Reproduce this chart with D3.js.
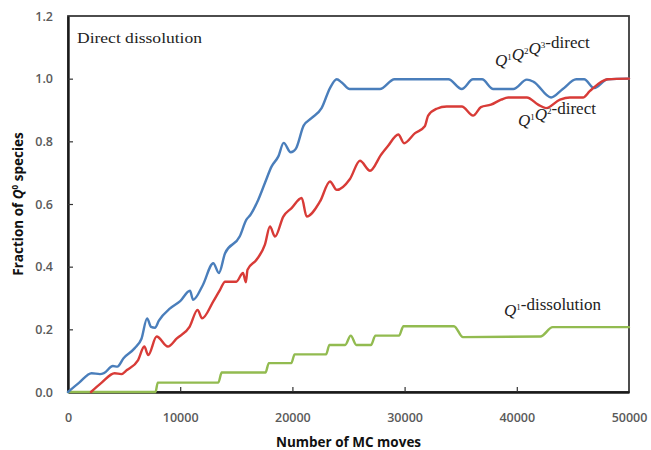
<!DOCTYPE html>
<html>
<head>
<meta charset="utf-8">
<script src="https://cdn.jsdelivr.net/npm/d3@7"></script>
<style>
  html, body { margin: 0; padding: 0; background: #fff; }
  svg { display: block; }
</style>
</head>
<body>
<svg id="chart" width="651" height="450"></svg>
<script>
// Fraction of Q0 species versus number of Monte Carlo moves, direct dissolution runs.
const xTicks = [0, 10000, 20000, 30000, 40000, 50000];
const yTicks = [0.0, 0.2, 0.4, 0.6, 0.8, 1.0, 1.2];

// [MC moves, fraction]
const q123Direct = [
  [0, 0.0], [1000, 0.03], [2100, 0.06], [2850, 0.057], [3200, 0.06], [4000, 0.083],
  [4400, 0.081], [4950, 0.108], [5950, 0.14], [6550, 0.17], [7050, 0.235], [7400, 0.208],
  [7750, 0.205], [8100, 0.228], [9100, 0.267], [10000, 0.29], [10870, 0.323], [11150, 0.294],
  [12000, 0.34], [12950, 0.411], [13450, 0.38], [14000, 0.443], [15300, 0.496], [15900, 0.55],
  [16250, 0.565], [16950, 0.613], [17550, 0.667], [18150, 0.72], [18750, 0.752], [19220, 0.795],
  [19850, 0.765], [20300, 0.776], [21000, 0.85], [21700, 0.874], [22600, 0.906], [23350, 0.97],
  [23950, 0.998], [24400, 0.988], [25100, 0.967], [27800, 0.967], [29100, 0.998], [33900, 0.998],
  [35090, 0.967], [36100, 0.998], [36900, 0.998], [37900, 0.967], [39690, 0.967], [40900, 0.997],
  [41500, 0.99], [43050, 0.94], [44100, 0.967], [45300, 0.998], [46000, 0.998], [46900, 0.97],
  [48100, 0.998], [50000, 1.0]
];

const q12Direct = [
  [2050, 0.0], [3000, 0.03], [4150, 0.06], [4750, 0.057], [5250, 0.07], [6250, 0.102],
  [6800, 0.145], [7150, 0.118], [7900, 0.177], [8900, 0.145], [9700, 0.171], [10850, 0.209],
  [11550, 0.262], [11950, 0.235], [12950, 0.289], [13550, 0.326], [14000, 0.352], [15000, 0.352],
  [15600, 0.38], [15850, 0.35], [16000, 0.39], [16800, 0.422], [17550, 0.47], [18000, 0.528],
  [18450, 0.496], [19190, 0.56], [19930, 0.587], [20830, 0.619], [21270, 0.56], [22460, 0.608],
  [23350, 0.672], [23950, 0.645], [25130, 0.68], [26020, 0.738], [26920, 0.706], [27900, 0.757],
  [28500, 0.784], [29440, 0.822], [29950, 0.794], [30930, 0.826], [31800, 0.848], [32100, 0.882],
  [32860, 0.904], [33750, 0.911], [35100, 0.911], [36100, 0.882], [36800, 0.909], [37700, 0.917],
  [38600, 0.933], [39240, 0.94], [40900, 0.94], [41900, 0.917], [42600, 0.906], [43850, 0.933],
  [44740, 0.94], [45900, 0.94], [46500, 0.96], [48100, 0.998], [50000, 1.0]
];

const q1Dissolution = [
  [0, 0.0], [7800, 0.0], [8000, 0.03], [13400, 0.03], [13700, 0.062], [17600, 0.062],
  [17900, 0.092], [19900, 0.092], [20200, 0.12], [23000, 0.12], [23300, 0.15], [24700, 0.15],
  [25200, 0.18], [25700, 0.15], [27000, 0.15], [27400, 0.18], [29500, 0.18], [29900, 0.21],
  [34400, 0.21], [35200, 0.175], [42100, 0.177], [43200, 0.207], [50000, 0.207]
];

const margin = { left: 68, right: 22, top: 16, bottom: 58 };
const W = 651, H = 450;
const svg = d3.select("#chart");

const x = d3.scaleLinear().domain([0, 50000]).range([margin.left, W - margin.right]);
const y = d3.scaleLinear().domain([0, 1.2]).range([H - margin.bottom, margin.top]);

const tickFont = "'Open Sans', sans-serif";

// Frame
svg.append("rect")
  .attr("x", x(0)).attr("y", y(1.2))
  .attr("width", x(50000) - x(0)).attr("height", y(0) - y(1.2))
  .attr("fill", "none").attr("stroke", "#3a3a3a").attr("stroke-width", 1.8);

// Axes with inward ticks
const yAxis = svg.append("g")
  .attr("transform", `translate(${x(0)},0)`)
  .call(d3.axisLeft(y).tickValues(yTicks).tickFormat(d3.format(".1f")).tickSizeInner(-5).tickSizeOuter(0).tickPadding(15));
const xAxis = svg.append("g")
  .attr("transform", `translate(0,${y(0)})`)
  .call(d3.axisBottom(x).tickValues(xTicks).tickFormat(d3.format("d")).tickSizeInner(-5).tickSizeOuter(0).tickPadding(21));

[yAxis, xAxis].forEach(g => {
  g.select(".domain").attr("stroke", "#1a1a1a").attr("stroke-width", 2.4);
  g.selectAll(".tick line").attr("stroke", "#333").attr("stroke-width", 1.2);
  g.selectAll(".tick text")
    .attr("fill", "#5a5a5a")
    .style("font-family", tickFont)
    .style("font-size", "12.5px")
    .style("font-weight", 600);
});
yAxis.selectAll(".tick").filter(d => d === 0 || d === 1.2).select("line").remove();
xAxis.selectAll(".tick").filter(d => d === 0 || d === 50000).select("line").remove();

// Axis titles
svg.append("text")
  .attr("x", (x(0) + x(50000)) / 2).attr("y", 447)
  .attr("text-anchor", "middle")
  .style("font-family", tickFont).style("font-size", "13.5px").style("font-weight", 700)
  .attr("fill", "#111")
  .text("Number of MC moves");

const yTitle = svg.append("text")
  .attr("transform", `translate(23,${(y(0) + y(1.2)) / 2}) rotate(-90)`)
  .attr("text-anchor", "middle")
  .style("font-family", tickFont).style("font-size", "13.5px").style("font-weight", 700)
  .attr("fill", "#111");
yTitle.append("tspan").text("Fraction of ");
yTitle.append("tspan").style("font-style", "italic").text("Q");
yTitle.append("tspan").attr("dy", -5).style("font-size", "8px").text("0");
yTitle.append("tspan").attr("dy", 5).text(" species");

// Series
const line = d3.line()
  .x(d => x(d[0]))
  .y(d => y(d[1]))
  .curve(d3.curveMonotoneX);

const series = [
  { data: q1Dissolution, color: "#92bb50" },
  { data: q123Direct, color: "#4a7ebb" },
  { data: q12Direct, color: "#d83b37" }
];
series.forEach(s => {
  svg.append("path")
    .datum(s.data)
    .attr("d", line)
    .attr("fill", "none")
    .attr("stroke", s.color)
    .attr("stroke-width", 2.4)
    .attr("stroke-linejoin", "round")
    .attr("stroke-linecap", "round");
});

// Annotations
const serif = "'Liberation Serif', 'Times New Roman', serif";
svg.append("text")
  .attr("x", 77).attr("y", 43)
  .attr("textLength", 125).attr("lengthAdjust", "spacingAndGlyphs")
  .style("font-family", serif).style("font-size", "15.5px")
  .attr("fill", "#222")
  .text("Direct dissolution");

function seriesLabel(xPos, yPos, parts, suffix) {
  const t = svg.append("text")
    .attr("x", xPos).attr("y", yPos)
    .style("font-family", serif).style("font-size", "17px")
    .attr("fill", "#222");
  parts.forEach(p => {
    t.append("tspan").style("font-style", "italic").text("Q");
    t.append("tspan").attr("dy", -6).style("font-size", "9px").text(p);
    t.append("tspan").attr("dy", 6).text("");
  });
  t.append("tspan").text(suffix);
}
seriesLabel(495, 66, ["1", "2", "3"], "-direct");
seriesLabel(518, 126, ["1", "2"], "-direct");
seriesLabel(504, 316, ["1"], "-dissolution");
</script>
</body>
</html>
